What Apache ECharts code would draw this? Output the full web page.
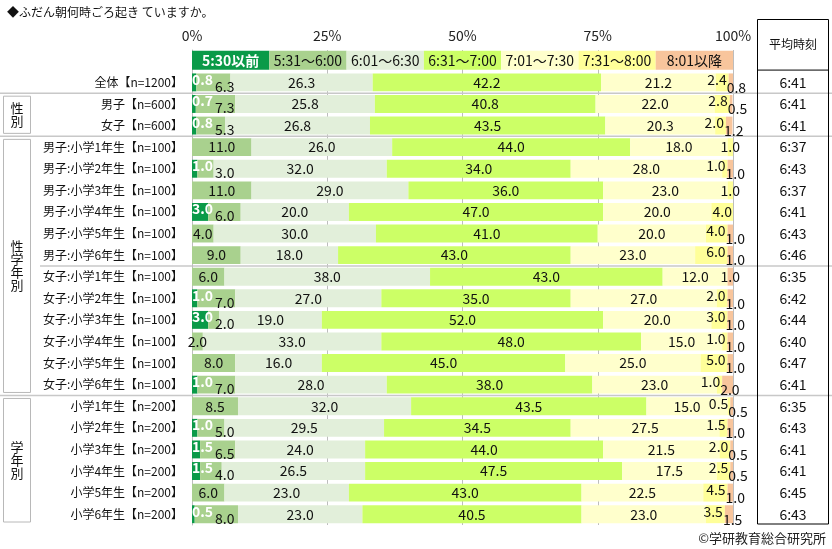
<!DOCTYPE html>
<html>
<head>
<meta charset="utf-8">
<script src="https://cdn.jsdelivr.net/npm/echarts@6.0.0/dist/echarts.min.js"></script>
<style>
  html, body { margin: 0; padding: 0; background: #fff; }
  #chart { width: 832px; height: 549px; }
</style>
</head>
<body>
<div id="chart"></div>
<script>
const FONT = "'Noto Sans CJK JP', 'Noto Sans', sans-serif";

const categories = [
  '全体【n=1200】', '男子【n=600】', '女子【n=600】',
  '男子:小学1年生【n=100】', '男子:小学2年生【n=100】', '男子:小学3年生【n=100】',
  '男子:小学4年生【n=100】', '男子:小学5年生【n=100】', '男子:小学6年生【n=100】',
  '女子:小学1年生【n=100】', '女子:小学2年生【n=100】', '女子:小学3年生【n=100】',
  '女子:小学4年生【n=100】', '女子:小学5年生【n=100】', '女子:小学6年生【n=100】',
  '小学1年生【n=200】', '小学2年生【n=200】', '小学3年生【n=200】',
  '小学4年生【n=200】', '小学5年生【n=200】', '小学6年生【n=200】'
];
const seriesNames = ['5:30以前', '5:31〜6:00', '6:01〜6:30', '6:31〜7:00', '7:01〜7:30', '7:31〜8:00', '8:01以降'];
const before530 = [0.8, 0.7, 0.8, 0, 1.0, 0, 3.0, 0, 0, 0, 1.0, 3.0, 0, 0, 1.0, 0, 1.0, 1.5, 1.5, 0, 0.5];
const t531to600 = [6.3, 7.3, 5.3, 11.0, 3.0, 11.0, 6.0, 4.0, 9.0, 6.0, 7.0, 2.0, 2.0, 8.0, 7.0, 8.5, 5.0, 6.5, 4.0, 6.0, 8.0];
const t601to630 = [26.3, 25.8, 26.8, 26.0, 32.0, 29.0, 20.0, 30.0, 18.0, 38.0, 27.0, 19.0, 33.0, 16.0, 28.0, 32.0, 29.5, 24.0, 26.5, 23.0, 23.0];
const t631to700 = [42.2, 40.8, 43.5, 44.0, 34.0, 36.0, 47.0, 41.0, 43.0, 43.0, 35.0, 52.0, 48.0, 45.0, 38.0, 43.5, 34.5, 44.0, 47.5, 43.0, 40.5];
const t701to730 = [21.2, 22.0, 20.3, 18.0, 28.0, 23.0, 20.0, 20.0, 23.0, 12.0, 27.0, 20.0, 15.0, 25.0, 23.0, 15.0, 27.5, 21.5, 17.5, 22.5, 23.0];
const t731to800 = [2.4, 2.8, 2.0, 1.0, 1.0, 1.0, 4.0, 4.0, 6.0, 0, 2.0, 3.0, 1.0, 5.0, 1.0, 0.5, 1.5, 2.0, 2.5, 4.5, 3.5];
const after801 = [0.8, 0.5, 1.2, 0, 1.0, 0, 0, 1.0, 1.0, 1.0, 1.0, 1.0, 1.0, 1.0, 2.0, 0.5, 1.0, 0.5, 0.5, 1.0, 1.5];
const avgTimes = ['6:41', '6:41', '6:41', '6:37', '6:43', '6:37', '6:41', '6:43', '6:46', '6:35', '6:42',
  '6:44', '6:40', '6:47', '6:41', '6:35', '6:43', '6:41', '6:41', '6:45', '6:43'];
const xTicks = [0, 25, 50, 75, 100];

const colors = ['#0a9a48', '#a9d18e', '#e2efda', '#ccff66', '#ffffcc', '#ffff99', '#f8c59c'];
const values = [before530, t531to600, t601to630, t631to700, t701to730, t731to800, after801];

const gridLeft = 192;
const gridRight = 99;
const ppu = (832 - gridLeft - gridRight) / 100;

// per-bar label tweaks so small neighbouring labels do not collide (as in the original)
const labelFor = (s, i) => {
  if (s === 0) {
    return { position: 'insideLeft', distance: 1, offset: [-1, -3], color: '#fff', fontWeight: 'bold' };
  }
  if (s === 1 && before530[i] > 0) {
    return { position: 'insideLeft', distance: 0, offset: [Math.max(2, 23 - before530[i] * ppu), 4] };
  }
  if (s === 5 && after801[i] > 0) {
    return { position: 'insideRight', distance: 2, offset: [0, -3] };
  }
  if (s === 6 && t731to800[i] > 0) {
    return { position: 'insideLeft', distance: 0, offset: [-2, 5] };
  }
  return { position: 'inside' };
};

const buildSeries = () => seriesNames.map((name, s) => ({
  name: name,
  type: 'bar',
  stack: 'total',
  barWidth: '83%',
  itemStyle: { color: colors[s] },
  label: {
    show: true,
    fontFamily: FONT,
    fontSize: 14,
    color: '#111',
    formatter: p => (p.value > 0 ? p.value.toFixed(1) : '')
  },
  data: ['-'].concat(values[s].map((v, i) => ({ value: v, label: labelFor(s, i) })))
}));

const getOption = () => ({
  animation: false,
  textStyle: { fontFamily: FONT },
  grid: { left: gridLeft, right: gridRight, top: 50, bottom: 24 },
  xAxis: {
    type: 'value',
    position: 'top',
    min: xTicks[0],
    max: xTicks[xTicks.length - 1],
    interval: 25,
    axisLine: { show: false },
    axisTick: { show: false },
    axisLabel: { formatter: '{value}%', fontSize: 14, color: '#222', margin: 7, fontFamily: FONT },
    splitLine: { lineStyle: { color: '#bdbdbd' } }
  },
  yAxis: [
    {
      type: 'category',
      inverse: true,
      data: [''].concat(categories),
      axisTick: { show: false },
      axisLine: { lineStyle: { color: '#bdbdbd' } },
      axisLabel: { fontSize: 12, color: '#111', margin: 9, fontFamily: FONT }
    },
    {
      type: 'category',
      inverse: true,
      position: 'right',
      data: [''].concat(avgTimes),
      axisTick: { show: false },
      axisLine: { show: false },
      axisLabel: { fontSize: 14, color: '#111', margin: 60, align: 'center', fontFamily: FONT }
    }
  ],
  series: buildSeries()
});

const drawExtras = (chart) => {
  const px = v => chart.convertToPixel({ xAxisIndex: 0 }, v);
  const py = i => chart.convertToPixel({ yAxisIndex: 0 }, i);
  const band = py(1) - py(0);
  const edge = i => py(i) - band / 2;
  const g = [];

  // legend row drawn as a band of labelled cells
  seriesNames.forEach((name, k) => {
    const x0 = px(k * 100 / seriesNames.length);
    const x1 = px((k + 1) * 100 / seriesNames.length);
    g.push({
      type: 'rect', z: 10,
      shape: { x: x0, y: py(0) - 10, width: x1 - x0, height: 19 },
      style: { fill: colors[k] }
    });
    g.push({
      type: 'text', z: 11, x: (x0 + x1) / 2, y: py(0) - 0.5,
      style: {
        text: name, fill: k === 0 ? '#fff' : '#111', fontSize: 14,
        fontWeight: k === 0 ? 'bold' : 'normal', fontFamily: FONT,
        textAlign: 'center', textVerticalAlign: 'middle'
      }
    });
  });

  // group separators
  [[2, 0], [4, 0], [10, 40], [16, 0]].forEach(([row, x0]) => {
    g.push({
      type: 'line', z: 0,
      shape: { x1: x0, y1: edge(row), x2: 832, y2: edge(row) },
      style: { stroke: '#c8c8c8', lineWidth: 1.5 }
    });
  });

  // group boxes with vertical captions
  [[2, 4, '性\n別'], [4, 16, '性\n学\n年\n別'], [16, 22, '学\n年\n別']].forEach(([a, b, txt]) => {
    const y0 = edge(a) + 3;
    const y1 = edge(b) - 3;
    g.push({
      type: 'rect', z: 5,
      shape: { x: 3.5, y: y0, width: 27, height: y1 - y0 },
      style: { fill: '#fff', stroke: '#b8b8b8', lineWidth: 1 }
    });
    g.push({
      type: 'text', z: 6, x: 17, y: (y0 + y1) / 2,
      style: {
        text: txt, fill: '#111', fontSize: 13, lineHeight: 13, fontFamily: FONT,
        textAlign: 'center', textVerticalAlign: 'middle'
      }
    });
  });

  // average time table frame
  const top = 19.5;
  const headBottom = edge(1) - 1.5;
  const bottom = edge(categories.length + 1) - 1;
  g.push({
    type: 'rect', z: 7,
    shape: { x: 757.5, y: top, width: 71, height: bottom - top },
    style: { fill: 'none', stroke: '#000', lineWidth: 1 }
  });
  g.push({
    type: 'line', z: 7,
    shape: { x1: 757.5, y1: headBottom, x2: 828.5, y2: headBottom },
    style: { stroke: '#000', lineWidth: 1 }
  });
  g.push({
    type: 'text', z: 7, x: 793, y: (top + headBottom) / 2,
    style: {
      text: '平均時刻', fill: '#111', fontSize: 12, fontFamily: FONT,
      textAlign: 'center', textVerticalAlign: 'middle'
    }
  });

  // title and source
  g.push({
    type: 'text', z: 7, x: 7, y: 12,
    style: { text: '◆ふだん朝何時ごろ起き ていますか。', fill: '#111', fontSize: 12, fontFamily: FONT, textVerticalAlign: 'middle' }
  });
  g.push({
    type: 'text', z: 7, x: 826, y: 538,
    style: { text: '©学研教育総合研究所', fill: '#222', fontSize: 13, fontFamily: FONT, textAlign: 'right', textVerticalAlign: 'middle' }
  });

  chart.setOption({ graphic: g });
};

window.addEventListener('load', () => {
  const chart = echarts.init(document.getElementById('chart'), null, { renderer: 'canvas' });
  chart.setOption(getOption());
  drawExtras(chart);
});
</script>
</body>
</html>
